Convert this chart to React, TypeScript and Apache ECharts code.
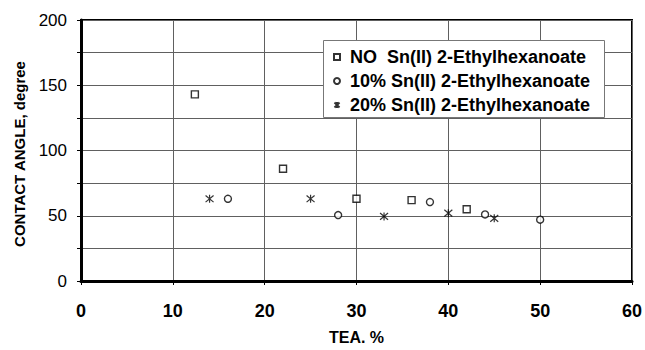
import React, { useEffect, useRef } from "react";
import * as echarts from "echarts";

const seriesNames = [
  "NO  Sn(II) 2-Ethylhexanoate",
  "10% Sn(II) 2-Ethylhexanoate",
  "20% Sn(II) 2-Ethylhexanoate",
];
const noSn: [number, number][] = [
  [12.4, 143],
  [22, 86],
  [30, 63],
  [36, 62],
  [42, 55],
];
const sn10: [number, number][] = [
  [16, 63],
  [28, 50.5],
  [38, 60.5],
  [44, 51],
  [50, 47],
];
const sn20: [number, number][] = [
  [14, 63],
  [25, 63],
  [33, 49.5],
  [40, 52],
  [45, 48],
];
const xTicks = { min: 0, max: 60, interval: 10 };
const yTicks = { min: 0, max: 200, interval: 25, labelEvery: 50 };
const yTitle = "CONTACT ANGLE, degree";
const xTitle = "TEA. %";

const starPath = "path://M0,0L10,10M10,0L0,10M5,-1L5,11";
const FONT = "'Liberation Sans', Arial, sans-serif";
const GRID = "#606060";

export default function App() {
  const ref = useRef<HTMLDivElement>(null);
  useEffect(() => {
    if (!ref.current) return;
    const chart = echarts.init(ref.current, undefined, { renderer: "svg" });
    const markerStyle = {
      color: "#ffffff",
      borderColor: "#000000",
      borderWidth: 1.4,
    };
    chart.setOption({
      animation: false,
      backgroundColor: "#ffffff",
      textStyle: { fontFamily: FONT },
      grid: {
        left: 81,
        right: 12,
        top: 20,
        bottom: 61,
        show: true,
        borderColor: "#000",
        borderWidth: 2,
        backgroundColor: "transparent",
      },
      graphic: [
        {
          type: "rect",
          left: 323,
          top: 40,
          z: 4,
          shape: { width: 281, height: 77 },
          style: { fill: "#ffffff", stroke: "#777", lineWidth: 1 },
        },
        {
          type: "text",
          x: 19,
          y: 154,
          rotation: Math.PI / 2,
          z: 5,
          style: {
            text: yTitle,
            fontFamily: FONT,
            fontSize: 15,
            fontWeight: "bold",
            fill: "#000",
            align: "center",
            verticalAlign: "middle",
          },
        },
      ],
      legend: {
        orient: "vertical",
        left: 323,
        top: 43,
        padding: [5, 8, 5, 9],
        itemGap: 6,
        itemWidth: 6,
        itemHeight: 6,
        z: 6,
        textStyle: {
          fontFamily: FONT,
          fontSize: 18,
          fontWeight: "bold",
          color: "#000",
          padding: [0, 0, 0, 5],
        },
        data: seriesNames,
      },
      xAxis: {
        type: "value",
        min: xTicks.min,
        max: xTicks.max,
        interval: xTicks.interval,
        name: xTitle,
        nameLocation: "middle",
        nameGap: 48,
        nameTextStyle: {
          fontFamily: FONT,
          fontSize: 16,
          fontWeight: "bold",
          color: "#000",
        },
        axisLine: { show: true, lineStyle: { color: "#000", width: 3 } },
        axisTick: { show: true, length: 4, lineStyle: { color: "#000" } },
        axisLabel: {
          fontFamily: FONT,
          fontSize: 18,
          fontWeight: "bold",
          color: "#000",
          margin: 21,
        },
        splitLine: { show: true, lineStyle: { color: GRID, width: 1 } },
      },
      yAxis: {
        type: "value",
        min: yTicks.min,
        max: yTicks.max,
        interval: yTicks.interval,
        axisLine: { show: true, lineStyle: { color: "#000", width: 3 } },
        axisTick: { show: true, length: 4, lineStyle: { color: "#000" } },
        axisLabel: {
          fontFamily: FONT,
          fontSize: 17,
          color: "#000",
          margin: 14,
          formatter: (v: number) =>
            v % yTicks.labelEvery === 0 ? String(v) : "",
        },
        splitLine: { show: true, lineStyle: { color: GRID, width: 1 } },
      },
      series: [
        {
          name: seriesNames[0],
          type: "scatter",
          symbol: "rect",
          symbolSize: 7,
          itemStyle: markerStyle,
          data: noSn,
          z: 3,
        },
        {
          name: seriesNames[1],
          type: "scatter",
          symbol: "circle",
          symbolSize: 7,
          itemStyle: markerStyle,
          data: sn10,
          z: 3,
        },
        {
          name: seriesNames[2],
          type: "scatter",
          symbol: starPath,
          symbolSize: 8,
          itemStyle: { color: "none", borderColor: "#000", borderWidth: 1.2 },
          data: sn20,
          z: 3,
        },
      ],
    });
    return () => chart.dispose();
  }, []);
  return (
    <div
      ref={ref}
      style={{ position: "fixed", left: 0, top: 0, width: 645, height: 350 }}
    />
  );
}
